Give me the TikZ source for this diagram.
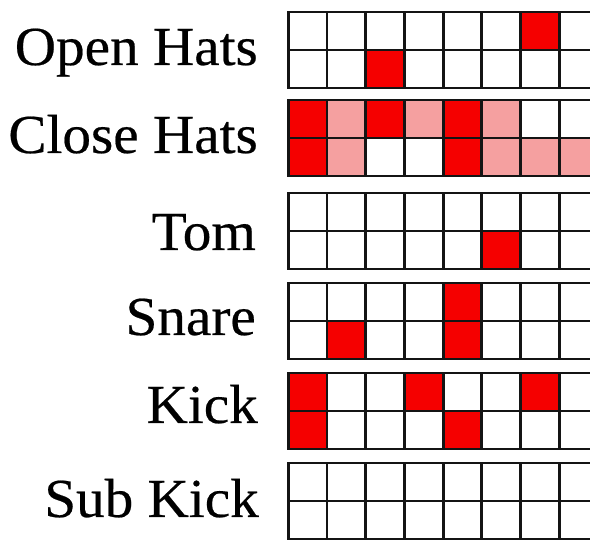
\documentclass[tikz,border=0pt]{standalone}
\usepackage{fontspec}
\setmainfont{Liberation Serif}[FakeStretch=1.04,FakeBold=0.4]
\definecolor{hit}{RGB}{245,0,0}
\definecolor{soft}{RGB}{245,160,160}
\begin{document}
\begin{tikzpicture}[x=1pt,y=-1pt,
  cellline/.style={line width=2.8pt, draw=black!92, line cap=rect},
  lbl/.style={anchor=base east, inner sep=0pt, font=\fontsize{55}{60}\selectfont}]
\clip (0,0) rectangle (590,540);
\fill[white] (0,0) rectangle (590,540);
% filled cells: group top / row / column / colour
\foreach \t/\r/\c/\col in {
  12/0/6/hit, 12/1/2/hit,
  100/0/0/hit, 100/0/1/soft, 100/0/2/hit, 100/0/3/soft, 100/0/4/hit, 100/0/5/soft,
  100/1/0/hit, 100/1/1/soft, 100/1/4/hit, 100/1/5/soft, 100/1/6/soft, 100/1/7/soft,
  193/1/5/hit,
  283/0/4/hit, 283/1/1/hit, 283/1/4/hit,
  373/0/0/hit, 373/0/3/hit, 373/0/6/hit, 373/1/0/hit, 373/1/4/hit}
  \fill[\col] (288.3+38.7*\c, \t+38*\r) rectangle ++(38.7,38);
% grids
\foreach \top in {12,100,193,283,373,463} {
  \foreach \k in {0,...,8} \draw[cellline] (288.3+38.7*\k, \top) -- ++(0,76);
  \foreach \j in {0,1,2} \draw[cellline] (288.3, \top+38*\j) -- (600, \top+38*\j);
}
% labels
\node[lbl] (openhats) at (258,65) {Open Hats};
\node[lbl] (closehats) at (258,153) {Close Hats};
\node[lbl] (tom) at (256,250) {Tom};
\node[lbl] (snare) at (256,335) {Snare};
\node[lbl] (kick) at (258,423) {Kick};
\node[lbl] (subkick) at (259,517) {Sub Kick};
\end{tikzpicture}
\end{document}
